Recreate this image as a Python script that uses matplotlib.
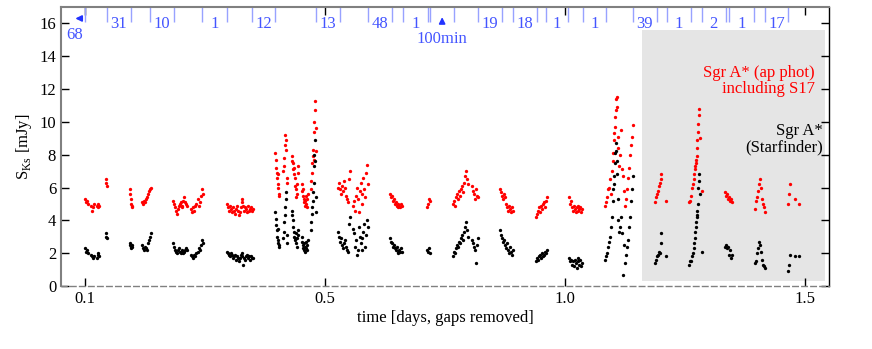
import matplotlib
matplotlib.use("Agg")
import matplotlib.pyplot as plt
from matplotlib.patches import Rectangle

# time [days, gaps removed], one line per observing block
time = [
    0.000, 0.002, 0.004, 0.006, 0.012, 0.014, 0.016, 0.018, 0.024, 0.026, 0.028, 0.030, 0.043, 0.044, 0.045,
    0.093, 0.094, 0.095, 0.096, 0.097, 0.098, 0.118, 0.120, 0.122, 0.124, 0.128, 0.130, 0.132, 0.134, 0.136, 0.138,
    0.183, 0.185, 0.187, 0.189, 0.191, 0.193, 0.195, 0.197, 0.199, 0.201, 0.203, 0.205, 0.207, 0.209, 0.211, 0.213,
    0.221, 0.223, 0.225, 0.227, 0.229, 0.231, 0.236, 0.238, 0.240, 0.242, 0.244, 0.246,
    0.296, 0.298, 0.300, 0.302, 0.304, 0.306, 0.308, 0.310, 0.312, 0.314, 0.316, 0.318, 0.320, 0.322,
    0.324, 0.326, 0.328, 0.330, 0.332, 0.334, 0.336, 0.338, 0.340, 0.342, 0.344, 0.346, 0.348, 0.350,
    0.396, 0.397, 0.398, 0.399, 0.400, 0.401, 0.402, 0.403, 0.404, 0.405,
    0.413, 0.414, 0.415, 0.416, 0.417, 0.418, 0.419, 0.420, 0.421,
    0.431, 0.432, 0.433, 0.434, 0.435, 0.436, 0.437, 0.438, 0.439, 0.440, 0.441, 0.442, 0.443, 0.444,
    0.452, 0.453, 0.454, 0.455, 0.456, 0.457, 0.458, 0.459, 0.460, 0.461, 0.462, 0.463, 0.464,
    0.470, 0.471, 0.472, 0.473, 0.474, 0.475, 0.476, 0.477, 0.478, 0.479, 0.480, 0.481, 0.482,
    0.527, 0.529, 0.531, 0.533, 0.535, 0.537, 0.539, 0.541, 0.543, 0.545, 0.547, 0.549, 0.551,
    0.558, 0.560, 0.562, 0.564, 0.566, 0.568, 0.570, 0.572, 0.574, 0.576, 0.578, 0.580, 0.582, 0.584, 0.586, 0.588, 0.590,
    0.635, 0.637, 0.639, 0.641, 0.643, 0.645, 0.647, 0.649, 0.651, 0.653, 0.655, 0.657, 0.659, 0.661,
    0.713, 0.715, 0.717, 0.719,
    0.767, 0.769, 0.771, 0.773, 0.775, 0.777, 0.779, 0.781, 0.783, 0.785, 0.787, 0.789, 0.791, 0.793, 0.795, 0.797,
    0.806, 0.808, 0.810, 0.812, 0.814, 0.816, 0.818,
    0.865, 0.867, 0.869, 0.871, 0.873, 0.875, 0.877, 0.879, 0.881, 0.883, 0.885, 0.887, 0.889, 0.891,
    0.940, 0.942, 0.944, 0.946, 0.948, 0.950, 0.952, 0.954, 0.956, 0.958, 0.960, 0.962,
    1.008, 1.010, 1.012, 1.014, 1.016, 1.018, 1.020, 1.022, 1.024, 1.026, 1.028, 1.030, 1.032, 1.034, 1.036,
    1.084, 1.086, 1.088, 1.090, 1.092, 1.094, 1.096, 1.098, 1.100, 1.101, 1.102, 1.103, 1.104, 1.105, 1.106,
    1.107, 1.108, 1.109, 1.110, 1.111, 1.112,
    1.114, 1.116, 1.118, 1.120, 1.122,
    1.126, 1.128, 1.130, 1.132, 1.134, 1.136, 1.138, 1.140, 1.142,
    1.187, 1.189, 1.191, 1.193, 1.195, 1.197, 1.199, 1.201, 1.210,
    1.259, 1.261, 1.263, 1.265, 1.267, 1.268, 1.269, 1.270, 1.271, 1.272, 1.273, 1.274, 1.275, 1.276, 1.277,
    1.278, 1.279, 1.280, 1.282, 1.285,
    1.333, 1.335, 1.337, 1.339, 1.341, 1.343, 1.345, 1.347,
    1.396, 1.398, 1.400, 1.402, 1.404, 1.406, 1.408, 1.410, 1.412, 1.414, 1.416,
    1.465, 1.466, 1.468, 1.479, 1.487,
]

# Sgr A* (ap phot) including S17 [mJy]
flux_ap = [
    5.3, 5.1, 5.2, 5.0, 4.9, 4.6, 4.8, 5.0, 4.9, 4.8, 5.0, 4.9, 6.5, 6.3, 6.1,
    5.9, 5.6, 5.3, 5.0, 4.8, 4.9, 5.1, 5.0, 5.2, 5.1, 5.3, 5.4, 5.6, 5.8, 5.9, 6.0,
    5.2, 5.0, 4.8, 4.6, 4.4, 4.7, 4.9, 5.0, 5.1, 4.8, 4.9, 5.2, 5.4, 5.1, 5.0, 4.9,
    4.7, 4.5, 4.8, 4.6, 4.9, 5.0, 5.3, 4.9, 5.1, 5.5, 5.9, 5.6,
    5.0, 4.8, 4.6, 4.9, 4.7, 4.5, 4.8, 4.6, 4.4, 4.7, 4.9, 4.6, 4.3, 4.5,
    4.8, 5.1, 5.3, 4.9, 4.6, 4.8, 4.7, 4.5, 4.9, 4.6, 4.7, 4.8, 4.6, 4.7,
    8.1, 7.7, 7.2, 6.9, 6.6, 6.2, 6.8, 6.0, 5.6, 5.5,
    7.0, 7.3, 7.8, 8.6, 9.2, 8.9, 8.3, 6.6, 6.3,
    7.6, 7.9, 7.5, 7.1, 6.8, 7.2, 6.6, 6.1, 5.9, 5.4, 5.6, 6.2, 6.9, 7.3,
    6.2, 5.8, 5.5, 5.9, 5.3, 5.1, 4.9, 5.2, 5.5, 5.0, 4.8, 5.3, 5.6,
    5.9, 6.4, 6.9, 7.5, 7.9, 8.3, 7.7, 9.4, 10.0, 10.7, 11.3, 9.6, 8.2,
    6.0, 6.3, 5.9, 5.6, 6.1, 5.8, 6.4, 6.0, 5.5, 5.3, 5.1, 6.5, 7.0,
    4.9, 5.2, 4.6, 5.5, 6.0, 5.3, 4.5, 5.8, 6.3, 5.0, 5.6, 6.6, 5.9, 5.4, 6.9, 7.4, 6.2,
    5.6, 5.4, 5.5, 5.2, 5.3, 5.0, 5.1, 4.9, 5.0, 4.8, 4.9, 4.8, 5.0, 4.9,
    4.8, 5.0, 5.3, 5.2,
    5.0, 5.2, 4.9, 5.4, 5.6, 5.3, 5.8, 5.5, 5.9, 6.1, 5.7, 6.3, 6.7, 7.0, 6.5, 6.2,
    6.1, 5.8, 5.6, 5.3, 5.9, 5.5, 5.4,
    5.9, 5.7, 5.5, 5.3, 5.6, 5.4, 5.0, 4.8, 4.6, 4.9, 4.7, 4.5, 4.8, 4.6,
    4.2, 4.4, 4.6, 4.8, 4.5, 4.9, 4.7, 5.0, 5.1, 4.8, 5.2, 5.4,
    5.4, 5.0, 5.2, 4.8, 4.6, 4.9, 4.7, 4.5, 4.8, 4.9, 4.6, 4.7, 4.8, 4.5, 4.7,
    4.9, 5.1, 5.4, 5.9, 6.0, 6.5, 5.6, 7.0, 7.6, 8.1, 8.9, 9.3, 9.7, 10.3, 10.7,
    11.4, 11.5, 10.9, 9.1, 8.4, 7.3,
    8.0, 9.5, 7.1, 6.7, 5.8,
    4.9, 5.3, 5.9, 6.6, 7.2, 8.0, 8.6, 9.1, 9.8,
    5.1, 5.4, 5.6, 5.8, 6.1, 6.3, 6.5, 6.8, 5.2,
    5.1, 5.2, 5.5, 6.0, 6.2, 6.5, 6.8, 7.1, 7.3, 7.5, 7.7, 7.9, 8.4, 8.9, 9.4,
    9.9, 10.4, 10.8, 9.0, 5.8,
    5.7, 5.5, 5.6, 5.3, 5.4, 5.2, 5.3, 5.1,
    4.7, 5.2, 5.4, 5.8, 6.2, 6.5, 6.0, 5.3, 5.0, 4.8, 4.5,
    5.0, 5.6, 6.2, 5.3, 5.0,
]

# Sgr A* (Starfinder) [mJy]
flux_sf = [
    2.3, 2.1, 2.2, 2.0, 1.9, 1.8, 1.7, 1.8, 1.7, 1.9, 2.0, 1.8, 3.2, 3.0, 2.9,
    2.6, 2.5, 2.4, 2.3, 2.5, 2.4, 2.5, 2.3, 2.2, 2.4, 2.3, 2.2, 2.6, 2.8, 3.0, 3.2,
    2.6, 2.4, 2.2, 2.1, 2.0, 2.2, 2.3, 2.1, 2.0, 2.2, 2.1, 2.0, 2.1, 2.2, 2.3, 2.2,
    1.9, 1.8, 1.7, 1.9, 1.8, 2.0, 2.1, 2.3, 2.2, 2.5, 2.8, 2.6,
    2.1, 2.0, 1.9, 1.8, 2.0, 1.9, 1.7, 1.8, 1.9, 1.6, 1.8, 1.7, 1.5, 1.7,
    1.9, 2.0, 1.8, 1.3, 1.7, 1.6, 1.8, 1.9, 1.7, 1.8, 1.6, 1.8, 1.7, 1.7,
    4.5, 4.1, 3.7, 3.4, 3.0, 2.8, 3.5, 2.6, 2.5, 2.4,
    2.9, 3.3, 3.9, 4.3, 4.8, 5.3, 5.7, 3.1, 2.6,
    4.6, 4.3, 4.0, 3.6, 3.3, 3.0, 2.8, 2.9, 3.2, 2.6, 2.4, 2.9, 3.4, 3.1,
    3.0, 2.7, 2.5, 2.3, 2.6, 2.2, 2.1, 2.4, 2.7, 2.3, 2.2, 2.5, 2.8,
    3.4, 3.9, 4.4, 4.8, 5.2, 5.7, 6.3, 7.3, 8.0, 8.9, 7.6, 5.4, 4.5,
    3.3, 3.0, 2.7, 2.9, 2.5, 2.3, 2.6, 2.8, 2.4, 2.2, 2.1, 3.8, 4.2,
    3.5, 3.2, 2.4, 2.8, 1.9, 2.2, 3.6, 3.0, 2.6, 2.2, 2.9, 3.3, 3.8, 2.4, 3.1, 4.0, 3.6,
    2.9, 2.7, 2.6, 2.4, 2.5, 2.3, 2.2, 2.4, 2.1, 2.0, 2.2, 2.1, 2.3, 2.1,
    2.2, 2.1, 2.3, 2.0,
    1.8, 2.1, 2.0, 2.3, 2.5, 2.4, 2.7, 2.6, 2.9, 3.1, 2.8, 3.3, 3.6, 3.9, 3.4, 3.0,
    2.8, 2.6, 2.4, 2.2, 1.4, 2.5, 2.9,
    3.4, 3.1, 2.9, 2.7, 2.8, 2.5, 2.3, 2.6, 2.2, 2.0, 2.4, 2.1, 1.9, 2.2,
    1.5, 1.7, 1.6, 1.8, 1.9, 1.7, 2.0, 1.8, 1.9, 2.1, 2.0, 2.2,
    1.7, 1.5, 1.6, 1.3, 1.5, 1.2, 1.6, 1.4, 1.1, 1.7, 1.5, 1.3, 1.6, 1.2, 1.4,
    1.6, 1.8, 2.0, 2.4, 2.7, 3.0, 3.6, 4.2, 5.2, 5.9, 6.7, 6.2, 7.5, 8.1, 8.7,
    8.2, 7.6, 6.8, 5.3, 4.0, 3.3,
    3.6, 4.2, 3.2, 0.7, 2.5,
    1.4, 1.9, 2.4, 2.8, 3.6, 4.2, 5.2, 5.9, 6.7,
    1.4, 1.6, 1.8, 1.9, 2.1, 2.0, 2.6, 3.2, 1.8,
    1.3, 1.5, 1.5, 1.8, 2.0, 2.3, 2.6, 2.9, 3.3, 3.6, 3.9, 4.3, 4.6, 4.2, 5.0,
    6.0, 6.4, 6.8, 5.6, 2.1,
    2.4, 2.5, 2.3, 2.4, 1.9, 2.2, 1.7, 1.9,
    1.4, 1.5, 2.0, 2.3, 2.7, 2.5, 2.1, 1.6, 1.3, 1.2, 1.1,
    0.9, 1.3, 1.9, 1.8, 1.8,
]

# removed gaps (start/end in plot time) and their labels along the top
gap_start = [0.045, 0.135, 0.244, 0.347, 0.481, 0.589, 0.663, 0.719, 0.818, 0.892,
             0.960, 1.037, 1.141, 1.212, 1.285, 1.342, 1.417]
gap_end = [0.095, 0.186, 0.295, 0.396, 0.531, 0.639, 0.714, 0.769, 0.869, 0.941,
           1.007, 1.085, 1.191, 1.262, 1.335, 1.394, 1.465]
gap_label = ["31", "10", "1", "12", "13", "48", "1", "", "19", "18",
             "1", "1", "39", "1", "2", "1", "17"]

xtick_pos = [0.0, 0.5, 1.0, 1.5]
xtick_lab = ["0.1", "0.5", "1.0", "1.5"]
ytick_pos = [0, 2, 4, 6, 8, 10, 12, 14, 16]

plt.rcParams['font.family'] = ['Liberation Serif', 'DejaVu Serif']
plt.rcParams['mathtext.fontset'] = 'custom'
plt.rcParams['mathtext.rm'] = 'Liberation Serif'
plt.rcParams['font.size'] = 12

fig = plt.figure(figsize=(8.72, 3.49), dpi=100)
ax = fig.add_axes([0.070, 0.1805, 0.8807, 0.7995])

# Starfinder-only region
ax.add_patch(Rectangle((1.160, 0.3), 0.382, 15.27, facecolor='#e5e5e5',
                       edgecolor='none', zorder=0))

ax.plot(time, flux_ap, 'o', color='red', ms=2.4, mew=0, zorder=3)
ax.plot(time, flux_sf, 'o', color='black', ms=2.4, mew=0, zorder=3)

ax.text(1.521, 12.5, "Sgr A* (ap phot)\nincluding S17", color='red',
        ha='right', va='center', multialignment='right', linespacing=1.05)
ax.text(1.537, 8.95, "Sgr A*\n(Starfinder)", color='black',
        ha='right', va='center', multialignment='right', linespacing=1.05)

# gap markers
line_blue = '#98a2ff'
text_blue = '#4455ff'
ax.vlines([0.0] + gap_start + gap_end, 16.1, 17, color=line_blue, lw=1.0, zorder=2)
for s, e, lab in zip(gap_start, gap_end, gap_label):
    if lab:
        ax.text((s + e) / 2, 15.95, lab, color=text_blue, ha='center', va='center')
ax.annotate("", xy=(-0.026, 16.3), xytext=(0.0, 16.3),
            arrowprops=dict(arrowstyle='-|>', color='#2233ff', lw=1.2, mutation_scale=9))
ax.text(-0.021, 15.3, "68", color=text_blue, ha='center', va='center')
ax.annotate("", xy=(0.744, 16.55), xytext=(0.744, 15.9),
            arrowprops=dict(arrowstyle='-|>', color='#2233ff', lw=1.2, mutation_scale=9))
ax.text(0.744, 15.05, "100min", color=text_blue, ha='center', va='center')

ax.set_xlim(-0.05, 1.55)
ax.set_ylim(0, 17)
ax.set_xticks(xtick_pos)
ax.set_xticklabels(xtick_lab)
ax.set_yticks(ytick_pos)
ax.tick_params(which='both', direction='in', top=True, right=True, length=6, width=1)
for tk in ax.xaxis.get_major_ticks() + ax.yaxis.get_major_ticks():
    tk.tick1line.set_color('#808080')
    tk.tick2line.set_color('black')

ax.spines['left'].set_color('#808080')
ax.spines['left'].set_linewidth(1.5)
ax.spines['top'].set_color('#808080')
ax.spines['top'].set_linewidth(1.5)
ax.spines['right'].set_color('black')
ax.spines['right'].set_linewidth(1.0)
ax.spines['bottom'].set_color('#808080')
ax.spines['bottom'].set_linewidth(1.0)
ax.spines['bottom'].set_linestyle((0, (4, 2.5)))

ax.set_xlabel("time [days, gaps removed]", labelpad=2)
ax.set_ylabel(r"S$_{\mathrm{Ks}}$ [mJy]", labelpad=4)

fig.savefig("out.png", dpi=100)
